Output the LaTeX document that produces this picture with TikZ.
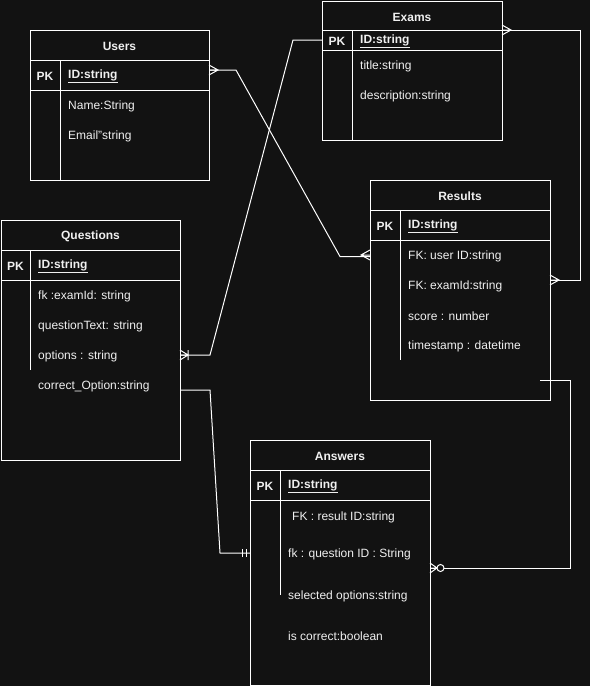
\documentclass[tikz,border=0pt]{standalone}
\usepackage{fontspec}
\setmainfont{Liberation Sans}
\definecolor{bg}{HTML}{121212}
\definecolor{ink}{HTML}{F0F0F0}
\tikzset{
  entity/.style={draw=white, line width=1pt, anchor=north west, inner sep=0pt, outer sep=0pt},
  head/.style={font=\fontsize{12}{14}\selectfont\bfseries, text=ink, inner sep=0pt, yshift=-1.5pt},
  field/.style={anchor=west, inner sep=0pt, font=\fontsize{12}{14}\selectfont, text=ink, yshift=-1.5pt},
  link/.style={draw=white, line width=1pt},
  many/.pic={\draw[link] (0,-5) -- (9,0) -- (0,5) (0,0) -- (9,0);},
  onemany/.pic={\draw[link] (0,-5) -- (8,0) -- (0,5) (0,0) -- (8,0) (8,-5) -- (8,5);},
  justone/.pic={\draw[link] (4,-4) -- (4,4) (8,-4) -- (8,4);},
  zeromany/.pic={\draw[link] (0,-5) -- (7,0) -- (0,5) (0,0) -- (7,0); \draw[link, fill=bg] (10.5,0) circle (3.5pt);},
}

\begin{document}
\begin{tikzpicture}[x=1pt, y=-1pt]
    \fill[bg] (0,0) rectangle (590,686);
    \useasboundingbox (0,0) rectangle (590,686);

    \node[entity, minimum width=179, minimum height=150] (users) at (30,30) {};
    \draw[link] (30,60) -- (209,60) (30,90) -- (209,90) (60,60) -- (60,180);
    \node[head] (userst) at (119.5,45) {Users};
    \node[head] (userspk) at (45,75) {PK};
    \node[field] (uid) at (68,75) {\bfseries\underline{ID:string}};
    \foreach [count=\i] \a in {Name:String, Email"string}
      \node[field] (u\i) at (68,75+30*\i) {\a};

    \node[entity, minimum width=180, minimum height=139] (exams) at (322,1) {};
    \draw[link] (322,30) -- (502,30) (322,50) -- (502,50) (352,30) -- (352,140);
    \node[head] (examst) at (412,16) {Exams};
    \node[head] (examspk) at (337,40) {PK};
    \node[field] (eid) at (360,40) {\bfseries\underline{ID:string}};
    \foreach [count=\i] \a in {title:string, description:string}
      \node[field] (e\i) at (360,35+30*\i) {\a};

    \node[entity, minimum width=179, minimum height=240] (questions) at (1,220) {};
    \draw[link] (1,250) -- (180,250) (1,280) -- (180,280) (30,250) -- (30,370);
    \node[head] (questionst) at (90.5,235) {Questions};
    \node[head] (questionspk) at (15.5,265) {PK};
    \node[field] (qid) at (38,265) {\bfseries\underline{ID:string}};
    \foreach [count=\i] \a in {fk :examId: string, questionText: string, options : string, correct\_Option:string}
      \node[field] (q\i) at (38,265+30*\i) {\a};

    \node[entity, minimum width=180, minimum height=220] (results) at (370,180) {};
    \draw[link] (370,210) -- (550,210) (370,240) -- (550,240) (400,210) -- (400,360);
    \node[head] (resultst) at (460,195) {Results};
    \node[head] (resultspk) at (385,225) {PK};
    \node[field] (rid) at (408,225) {\bfseries\underline{ID:string}};
    \foreach [count=\i] \a in {FK: user ID:string, FK: examId:string, score : number, timestamp : datetime}
      \node[field] (r\i) at (408,225+30*\i) {\a};

    \node[entity, minimum width=180, minimum height=245] (answers) at (250,440) {};
    \draw[link] (250,470) -- (430,470) (250,500) -- (430,500) (280,470) -- (280,595);
    \node[head] (answerst) at (340,455) {Answers};
    \node[head] (answerspk) at (265,485) {PK};
    \node[field] (aid) at (288,485) {\bfseries\underline{ID:string}};
    \node[field] (a1) at (292,516) {FK : result ID:string};
    \node[field] (a2) at (288,553) {fk : question ID : String};
    \node[field] (a3) at (288,595) {selected options:string};
    \node[field] (a4) at (288,635) {is correct:boolean};

    \draw[link] ([yshift=6.5pt]users.east |- uid) -- ++(27,0) -- ([xshift=-30pt]results.west |- r1) -- (results.west |- r1);
    \pic at ([yshift=6.5pt]users.east |- uid) {many};
    \pic[rotate=180] at ([yshift=1.5pt]results.west |- r1) {many};

    \draw[link] ([yshift=1.5pt]exams.west |- eid) -- ++(-29,0) -- ([xshift=30pt,yshift=1.5pt]questions.east |- q3) -- ([yshift=1.5pt]questions.east |- q3);
    \pic at ([yshift=1.5pt]questions.east |- q3) {onemany};

    \draw[link] ([yshift=11.5pt]exams.east |- eid) -- ++(78,0) |- ([yshift=6.5pt]results.east |- r2);
    \pic at ([yshift=11.5pt]exams.east |- eid) {many};
    \pic at ([yshift=6.5pt]results.east |- r2) {many};

    \draw[link] ([yshift=-3.5pt]questions.east |- q4) -- ++(30,0) -- ([xshift=-30pt,yshift=1.5pt]answers.west |- a2) -- ([yshift=1.5pt]answers.west |- a2);
    \pic[rotate=180] at ([yshift=1.5pt]answers.west |- a2) {justone};

    \draw[link] ([xshift=-10pt,yshift=20pt]results.south east) -- ++(30,0) |- ([yshift=-13.5pt]answers.east |- a2);
    \pic at ([yshift=-13.5pt]answers.east |- a2) {zeromany};
\end{tikzpicture}
\end{document}
